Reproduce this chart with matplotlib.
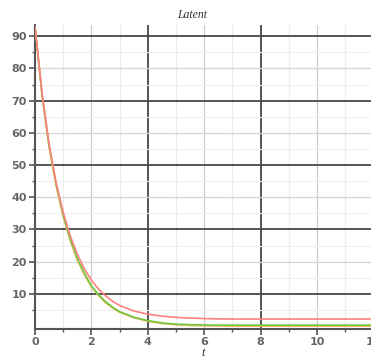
import matplotlib.pyplot as plt
import numpy as np

# values
t = [0, 0.25, 0.5, 0.75, 1.0, 1.25, 1.5, 1.75, 2.0, 2.25, 2.5, 2.75, 3.0,
     3.5, 4.0, 4.5, 5.0, 5.5, 6.0, 6.5, 7.0, 8.0, 9.0, 10.0, 11.0, 12.0, 13.0]
red = [93, 72.5, 56.5, 44.5, 35.3, 28, 22.3, 17.8, 14.3, 11.5, 9.4, 7.7, 6.4,
       4.7, 3.7, 3.1, 2.7, 2.5, 2.35, 2.25, 2.2, 2.2, 2.2, 2.2, 2.2, 2.2, 2.2]
green = [93, 72, 56, 44, 34.5, 27, 21, 16.5, 12.5, 9.8, 7.6, 5.9, 4.5,
         2.8, 1.7, 1.0, 0.6, 0.45, 0.35, 0.3, 0.3, 0.3, 0.3, 0.3, 0.3, 0.3, 0.3]
orange = [93, 71.5, 55.5, 43.5, 34, 26.5, 20.5, 16, 12.2, 9.5, 7.3, 5.6, 4.3,
          2.6, 1.5, 0.8, 0.4, 0.2, 0.1, 0.05, 0, 0, 0, 0, 0, 0, 0]

xticks = [0, 2, 4, 6, 8, 10, 12]
yticks = [10, 20, 30, 40, 50, 60, 70, 80, 90]

fig = plt.figure(figsize=(3.71, 3.59), dpi=100)
ax = fig.add_axes([35 / 371, 30 / 359, 352.5 / 371, 304 / 359])
ax.set_xlim(0, 12.5)
ax.set_ylim(-0.9, 93.5)

# grid: light every unit / 5, medium, dark
for x in np.arange(1, 13, 1):
    if x in (4, 8, 12):
        c, lw = '#474747', 1.3
    elif x % 2 == 0:
        c, lw = '#cccccc', 0.9
    else:
        c, lw = '#ececec', 0.8
    ax.axvline(x, color=c, lw=lw, zorder=0)
for y in np.arange(5, 95, 5):
    if y % 20 == 10:
        c, lw = '#474747', 1.3
    elif y % 10 == 0:
        c, lw = '#d6d6d6', 0.9
    else:
        c, lw = '#efefef', 0.8
    ax.axhline(y, color=c, lw=lw, zorder=0)

ax.plot(t, orange, color='#f2b45a', lw=1.2, zorder=2)
ax.plot(t, green, color='#70c840', lw=1.2, zorder=3)
ax.plot(t, red, color='#ff8080', lw=1.2, zorder=4)

for s in ['top', 'right']:
    ax.spines[s].set_visible(False)
for s in ['left', 'bottom']:
    ax.spines[s].set_color('#555555')
    ax.spines[s].set_linewidth(1.5)

ax.set_xticks(xticks)
ax.set_xticks(np.arange(1, 13, 2), minor=True)
ax.set_yticks(yticks)
ax.set_yticks(np.arange(5, 95, 10), minor=True)
ax.tick_params(axis='both', which='major', length=4, width=1.2, color='#555555',
               labelsize=8, labelcolor='#666666', pad=2)
ax.tick_params(axis='both', which='minor', length=2.5, width=1.0, color='#555555')
for lab in ax.get_xticklabels() + ax.get_yticklabels():
    lab.set_fontweight('bold')
    lab.set_family('DejaVu Sans')

fig.text(192 / 371, 1 - 15 / 359, 'Latent', ha='center', va='center',
         fontsize=8.5, style='italic', family='Liberation Serif', color='#333333')
fig.text(203 / 371, 1 - 353 / 359, 't', ha='center', va='center',
         fontsize=9, style='italic', family='Liberation Serif', color='#333333')

fig.savefig('out.png', dpi=100)
